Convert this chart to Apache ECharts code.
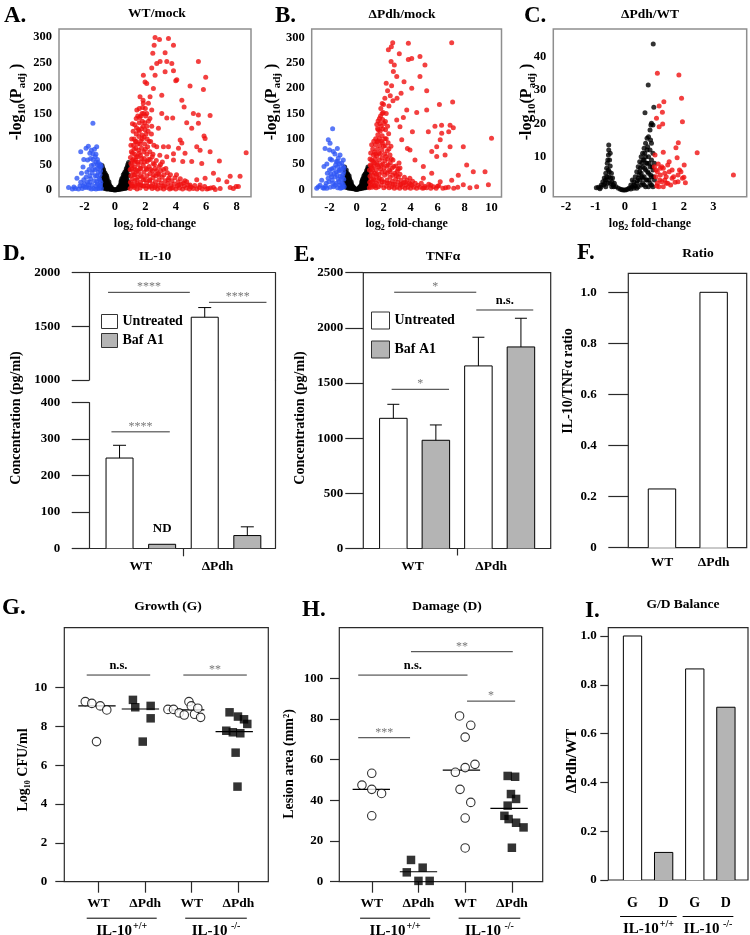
<!DOCTYPE html>
<html><head><meta charset="utf-8">
<script src="https://cdn.jsdelivr.net/npm/echarts@6/dist/echarts.min.js"></script>
<style>html,body{margin:0;padding:0;background:#fff}#c{width:750px;height:935px}</style>
</head><body><div id="c"></div>
<script>
// ===================== DATA =====================
// Volcano A (WT/mock)
const aXTicks = [-2,0,2,4,6,8];
const aYTicks = [0,50,100,150,200,250,300];
const aBlue = [[-1.45,131],[-1.75,86],[-1.9,82],[-2.25,75],[-1.2,85],[-1.65,72],[-1.45,71],[-1.3,65],[-1.8,59],[-2.05,60],[-1.1,54],[-2.2,33],[-2.5,23],[-3.05,5],[-2.6,3],[-1.55,78],[-1.35,80],[-1.25,70],[-1.6,62],[-1.0,45],[-0.95,38],[-1.15,42],[-1.4,50],[-1.7,40],[-1.9,25],[-2.0,12],[-2.3,8],[-2.4,2],[-2.15,3],[-1.95,5],[-1.8,15],[-1.7,4],[-1.6,22],[-1.5,10],[-1.5,34],[-1.4,3],[-1.35,18],[-1.3,40],[-1.25,8],[-1.2,28],[-1.15,12],[-1.1,3],[-1.05,22],[-1.0,8],[-0.98,30],[-0.93,15],[-0.9,46],[-0.9,3],[-1.65,28],[-1.85,35],[-2.05,20],[-2.7,6],[-2.8,2],[-1.55,48],[-1.25,55],[-1.05,48],[-0.95,50],[-1.15,60],[-1.45,60],[-2.1,45],[-1.2,16],[-1.55,2],[-1.75,10],[-2.25,15],[-1.0,20],[-1.1,35],[-1.3,28],[-1.45,40],[-1.05,4],[-1.25,2],[-1.65,15],[-1.85,6],[-2.1,8],[-0.95,10],[-1.15,50]];
const aBlack = [[-0.85,5],[-0.85,25],[-0.85,48],[-0.8,12],[-0.8,36],[-0.75,4],[-0.75,20],[-0.75,40],[-0.7,28],[-0.65,3],[-0.65,17],[-0.65,33],[-0.6,9],[-0.6,25],[-0.55,2],[-0.55,14],[-0.55,28],[-0.5,6],[-0.5,20],[-0.45,2],[-0.45,11],[-0.4,6],[-0.4,16],[-0.35,2],[-0.35,9],[-0.3,4],[-0.25,1],[-0.25,6],[-0.2,2],[-0.15,1],[-0.1,0.5],[-0.05,0.3],[0,0],[0.05,0.3],[0.1,0.5],[0.15,1],[0.2,2],[0.25,1],[0.25,6],[0.3,4],[0.35,2],[0.35,9],[0.4,6],[0.4,16],[0.45,2],[0.45,11],[0.45,22],[0.5,6],[0.5,20],[0.55,3],[0.55,15],[0.55,30],[0.6,9],[0.6,25],[0.65,3],[0.65,18],[0.65,35],[0.7,10],[0.7,30],[0.75,4],[0.75,22],[0.75,42],[0.8,14],[0.8,38],[0.85,5],[0.85,27],[0.85,50],[0.9,15],[0.9,40],[0.9,54],
[-0.82,18],[-0.82,44],[-0.78,8],[-0.78,30],[-0.72,14],[-0.72,36],[-0.68,6],[-0.68,22],[-0.62,14],[-0.62,30],[-0.58,5],[-0.58,20],[-0.52,10],[-0.52,24],[-0.48,4],[-0.48,15],[-0.42,8],[-0.38,4],[-0.38,12],[-0.32,6],[-0.28,2],[-0.22,3],[0.22,3],[0.28,2],[0.32,6],[0.38,4],[0.38,12],[0.42,8],[0.42,18],[0.48,4],[0.48,15],[0.52,10],[0.52,25],[0.58,5],[0.58,20],[0.62,14],[0.62,32],[0.68,6],[0.68,24],[0.72,14],[0.72,38],[0.78,8],[0.78,30],[0.82,18],[0.82,46],[0.88,8],[0.88,30]];
const aRed = [[2.64,299],[2.93,295],[3.52,297],[3.3,269],[2.58,284],[2.49,268],[3.85,284],[2.97,252],[3.41,252],[3.74,248],[2.75,248],[2.42,239],[3.3,232],[3.85,234],[2.64,225],[1.87,225],[1.98,212],[2.09,209],[4.0,214],[4.07,216],[4.94,204],[5.49,252],[5.97,221],[5.82,197],[2.53,199],[2.31,183],[3.08,186],[1.65,183],[1.87,170],[4.4,176],[4.55,163],[1.44,157],[2.09,150],[2.42,157],[3.08,150],[5.16,150],[5.49,147],[6.26,146],[4.72,132],[3.41,141],[3.8,141],[5.49,131],[2.42,125],[2.86,121],[5.05,121],[5.86,106],[5.93,101],[5.38,85],[5.6,78],[6.26,75],[8.63,73],[4.29,98],[4.4,92],[4.18,82],[4.61,72],[3.85,71],[3.19,85],[3.52,85],[2.75,85],[3.41,65],[3.85,59],[4.46,56],[5.05,56],[5.71,52],[6.87,57],[6.48,33],[7.58,27],[8.23,27],[6.81,20],[7.36,16],[5.93,23],[5.38,20],[4.72,16],[4.94,10],[5.6,10],[6.15,3],[6.92,3],[7.58,5],[7.97,7],[8.12,7],[7.79,3],[6.48,5],
[1.0,3],[1.02,15],[1.05,28],[1.0,40],[1.05,52],[1.02,64],[1.08,75],[1.12,8],[1.15,22],[1.18,36],[1.12,48],[1.2,60],[1.15,72],[1.22,88],[1.25,100],[1.28,5],[1.3,18],[1.32,30],[1.28,45],[1.35,58],[1.3,70],[1.38,82],[1.35,95],[1.4,110],[1.42,122],[1.45,2],[1.48,12],[1.5,25],[1.45,38],[1.52,50],[1.48,65],[1.55,78],[1.5,90],[1.58,105],[1.55,118],[1.6,132],[1.62,142],[1.65,4],[1.68,15],[1.7,28],[1.65,42],[1.72,55],[1.68,68],[1.75,82],[1.7,96],[1.78,108],[1.74,120],[1.8,135],[1.78,150],[1.82,162],[1.85,176],[1.85,8],[1.88,20],[1.9,35],[1.86,48],[1.92,62],[1.9,75],[1.95,90],[1.92,104],[1.98,118],[1.96,132],[2.02,145],[2.05,3],[2.08,14],[2.1,28],[2.05,42],[2.12,56],[2.1,70],[2.15,85],[2.12,100],[2.18,115],[2.2,135],[2.25,6],[2.28,18],[2.3,32],[2.25,46],[2.32,60],[2.3,75],[2.35,95],[2.4,110],[2.45,3],[2.48,12],[2.5,24],[2.46,38],[2.52,52],[2.5,70],[2.56,88],[2.62,5],[2.66,16],[2.7,28],[2.65,42],[2.72,58],[2.8,2],[2.85,10],[2.9,20],[2.84,32],[2.92,46],[2.95,68],[3.0,4],[3.05,14],[3.1,25],[3.02,38],[3.12,55],[3.2,2],[3.25,9],[3.3,18],[3.22,30],[3.35,42],[3.4,5],[3.48,13],[3.55,24],[3.45,34],[3.6,2],[3.68,9],[3.75,18],[3.65,30],[3.8,4],[3.9,12],[3.95,24],[4.0,2],[4.1,8],[4.15,16],[4.05,30],[4.25,4],[4.35,12],[4.3,22],[4.45,2],[4.55,8],[4.6,18],[4.7,4],[4.8,10],[4.9,2],[5.0,6],[5.15,3],[5.25,9],[5.4,2],[5.55,5],[5.75,2],[5.9,7],[6.05,2],[6.3,4],[6.6,1],[1.1,100],[1.2,115],[1.3,128],[1.5,145],[1.6,160],[2.0,160],[2.2,170],
[1.05,88],[1.1,12],[1.1,42],[1.15,58],[1.2,8],[1.25,30],[1.25,80],[1.3,55],[1.35,10],[1.35,40],[1.4,65],[1.4,95],[1.45,20],[1.5,55],[1.55,10],[1.55,35],[1.6,72],[1.6,115],[1.65,90],[1.7,10],[1.7,42],[1.75,62],[1.8,25],[1.8,100],[1.85,125],[1.9,8],[1.95,55],[2.0,20],[2.0,80],[2.05,110],[2.1,40],[2.15,8],[2.2,60],[2.25,95],[2.3,20],[2.35,40],[2.4,8],[2.45,65],[2.55,30],[2.6,50],[2.7,8],[2.75,38],[2.9,30],[3.0,50],[3.15,8],[3.2,40],[3.5,20],[3.7,4],[4.2,10],[4.5,14],[1.15,130],[1.4,140],[1.7,145],[1.9,150],[2.3,140],[2.1,125]];

// Volcano B (ΔPdh/mock)
const bXTicks = [-2,0,2,4,6,8,10];
const bYTicks = [0,50,100,150,200,250,300];
const bBlue = [[-1.77,120],[-2.09,98],[-1.96,91],[-2.33,81],[-1.42,81],[-1.72,75],[-1.22,68],[-1.84,58],[-0.98,58],[-2.41,45],[-2.16,32],[-2.58,18],[-2.83,5],[-2.41,2],[-2.0,78],[-1.6,70],[-1.35,62],[-1.1,52],[-1.5,55],[-1.95,60],[-2.2,50],[-1.0,45],[-0.95,35],[-1.15,40],[-1.4,45],[-1.7,42],[-1.9,30],[-2.05,15],[-2.3,6],[-2.5,3],[-2.2,2],[-1.95,4],[-1.8,18],[-1.7,5],[-1.6,25],[-1.5,12],[-1.5,35],[-1.4,3],[-1.35,20],[-1.3,36],[-1.25,8],[-1.2,26],[-1.1,12],[-1.1,3],[-1.05,25],[-1.0,10],[-0.95,20],[-0.92,5],[-0.92,42],[-1.65,32],[-1.85,40],[-2.1,22],[-2.7,8],[-2.95,2],[-1.55,48],[-1.25,50],[-1.3,15],[-1.75,12],[-2.25,12],[-1.45,28],[-1.15,20],[-1.0,30],[-1.05,4],[-1.25,38],[-1.6,8],[-1.85,25],[-2.0,38],[-1.4,55],[-1.2,2]];
const bBlack = [[-0.88,5],[-0.88,24],[-0.88,44],[-0.82,12],[-0.82,34],[-0.76,4],[-0.76,20],[-0.76,38],[-0.7,27],[-0.66,3],[-0.66,16],[-0.66,31],[-0.6,9],[-0.6,24],[-0.55,2],[-0.55,13],[-0.55,27],[-0.5,6],[-0.5,19],[-0.45,2],[-0.45,11],[-0.4,6],[-0.4,15],[-0.35,2],[-0.35,8],[-0.3,4],[-0.25,1],[-0.25,5],[-0.2,2],[-0.15,1],[-0.1,0.5],[-0.05,0.3],[0,0],[0.05,0.3],[0.1,0.5],[0.15,1],[0.2,2],[0.25,1],[0.25,5],[0.3,4],[0.35,2],[0.35,8],[0.4,6],[0.4,15],[0.45,2],[0.45,11],[0.45,20],[0.5,6],[0.5,18],[0.55,3],[0.55,14],[0.55,27],[0.6,9],[0.6,23],[0.65,3],[0.65,17],[0.65,31],[0.7,10],[0.7,28],[0.75,4],[0.75,21],[0.75,37],[0.8,13],[0.8,34],[0.85,5],[0.85,25],[0.85,44],[0.88,15],[0.88,38],
[-0.85,16],[-0.85,36],[-0.79,8],[-0.79,28],[-0.73,14],[-0.73,32],[-0.68,7],[-0.68,22],[-0.63,13],[-0.63,28],[-0.58,5],[-0.58,19],[-0.52,10],[-0.52,22],[-0.48,4],[-0.48,14],[-0.42,8],[-0.38,4],[-0.38,11],[-0.32,6],[-0.28,2],[-0.22,3],[0.22,3],[0.28,2],[0.32,6],[0.38,4],[0.38,11],[0.42,8],[0.42,16],[0.48,4],[0.48,14],[0.52,10],[0.52,23],[0.58,5],[0.58,19],[0.62,13],[0.62,29],[0.68,7],[0.68,23],[0.72,14],[0.72,33],[0.78,8],[0.78,28],[0.82,18],[0.82,40],[0.86,10],[0.86,32]];
const bRed = [[2.68,290],[2.58,282],[2.36,276],[3.84,289],[4.09,259],[3.84,257],[4.7,263],[3.17,268],[2.56,253],[2.8,246],[5.07,246],[2.73,233],[2.98,223],[3.52,213],[4.7,223],[4.09,200],[5.2,195],[6.14,168],[7.12,173],[7.05,290],[5.2,157],[3.72,157],[4.46,152],[6.3,127],[6.93,127],[5.81,125],[6.83,114],[6.31,111],[5.32,114],[7.17,122],[10.0,101],[7.91,84],[6.93,84],[6.2,98],[5.94,84],[5.57,75],[8.16,48],[8.65,35],[9.52,35],[9.77,9],[5.94,65],[6.56,68],[7.54,28],[7.05,18],[6.2,15],[7.91,9],[8.9,5],[4.95,45],[4.33,58],[3.96,78],[3.35,98],[3.22,124],[2.98,137],[3.47,142],[4.14,114],[3.77,81],[3.22,42],[4.95,22],[5.57,32],[2.2,210],[2.3,195],[2.1,180],[2.5,185],[2.4,165],[2.6,205],[1.9,170],[2.2,150],[3.0,180],[2.7,175],[3.3,190],[8.4,3],[7.5,4],[6.6,3],[6.0,6],[5.5,8],[5.0,3],
[0.95,3],[0.98,14],[1.0,26],[0.96,38],[1.02,48],[1.05,8],[1.08,20],[1.1,34],[1.06,46],[1.12,58],[1.15,4],[1.18,15],[1.2,28],[1.16,42],[1.22,55],[1.25,68],[1.2,80],[1.3,6],[1.32,18],[1.35,32],[1.3,46],[1.38,60],[1.34,74],[1.4,88],[1.42,100],[1.45,3],[1.48,12],[1.5,24],[1.46,38],[1.52,52],[1.5,66],[1.55,80],[1.52,94],[1.58,108],[1.56,120],[1.6,135],[1.62,5],[1.65,16],[1.68,30],[1.64,44],[1.7,58],[1.66,72],[1.72,86],[1.7,100],[1.75,115],[1.73,130],[1.78,145],[1.8,160],[1.82,8],[1.85,20],[1.88,34],[1.84,48],[1.9,62],[1.88,78],[1.92,92],[1.9,106],[1.95,120],[1.93,138],[1.98,152],[2.0,168],[2.02,3],[2.05,14],[2.08,28],[2.04,42],[2.1,56],[2.08,70],[2.12,86],[2.1,100],[2.15,118],[2.14,134],[2.22,6],[2.25,18],[2.28,32],[2.24,46],[2.3,60],[2.28,76],[2.34,92],[2.38,110],[2.42,3],[2.45,12],[2.48,24],[2.44,38],[2.5,52],[2.48,68],[2.55,85],[2.6,5],[2.65,16],[2.68,28],[2.64,42],[2.7,58],[2.8,2],[2.85,10],[2.9,20],[2.84,32],[2.92,46],[3.0,4],[3.05,14],[3.1,25],[3.02,36],[3.15,52],[3.2,2],[3.25,9],[3.3,18],[3.22,30],[3.4,5],[3.48,13],[3.55,24],[3.6,2],[3.68,9],[3.75,18],[3.8,4],[3.9,12],[3.95,22],[4.0,2],[4.1,8],[4.15,16],[4.25,4],[4.35,12],[4.45,2],[4.55,8],[4.7,4],[4.8,12],[4.9,2],[5.05,6],[5.2,3],[5.35,10],[5.5,2],[5.7,5],[5.9,2],[6.1,7],[6.4,2],[6.8,4],[7.2,2],
[1.0,60],[1.05,72],[1.1,10],[1.12,88],[1.18,38],[1.25,20],[1.28,95],[1.32,52],[1.38,8],[1.42,70],[1.48,30],[1.55,48],[1.6,95],[1.62,118],[1.68,22],[1.75,70],[1.78,40],[1.82,125],[1.85,95],[1.9,15],[1.95,50],[2.0,85],[2.05,130],[2.12,35],[2.18,65],[2.2,100],[2.3,12],[2.35,48],[2.4,80],[2.5,35],[2.58,60],[2.7,10],[2.75,45],[2.95,28],[3.1,40],[3.3,10],[3.6,14],[4.0,10],[1.7,140],[1.9,150],[2.3,125],[1.5,128]];

// Volcano C (ΔPdh/WT)
const cXTicks = [-2,-1,0,1,2,3];
const cYTicks = [0,10,20,30,40];
const cBlack = [[-0.55,13.5],[-0.55,12],[-0.56,10.5],[-0.52,9],[-0.6,8],[-0.5,7.2],[-0.56,6],[-0.65,5],[-0.46,5],[-0.7,3.6],[-0.42,3.6],[-0.6,3],[-0.5,2],[-0.8,1.5],[-0.75,2.5],[-0.36,2],[-0.3,1],[-0.9,0.8],[-0.97,0.7],[-0.22,0.5],[-0.65,1],[-0.45,1],[-0.55,4],[-0.62,6.5],[-0.5,11],[-0.58,2],[-0.68,2],[-0.4,1.5],[-0.85,0.4],[-0.15,0.2],[-0.1,0.1],[-0.05,0],[0,0],[0.05,0.1],[0.1,0.3],[0.15,0.6],[0.2,1.5],[0.2,0.3],[0.25,1],[0.25,3],[0.3,2.5],[0.3,0.5],[0.35,4],[0.35,1.2],[0.4,2],[0.4,5.5],[0.45,1],[0.45,3.5],[0.45,7],[0.5,3],[0.5,5.5],[0.5,8.5],[0.55,1.5],[0.55,5],[0.55,10],[0.6,2],[0.6,7],[0.6,11],[0.65,4],[0.65,9],[0.65,12.5],[0.7,1],[0.7,6],[0.7,10],[0.7,14],[0.75,3],[0.75,8],[0.75,12],[0.75,15.5],[0.8,5],[0.8,10],[0.8,16],[0.85,2],[0.85,7],[0.85,12],[0.85,18],[0.9,4],[0.9,9],[0.9,14],[0.9,20],[0.95,1],[0.95,6],[0.95,11],[0.95,19.5],[1.0,3],[1.0,8],[0.96,43.8],[0.79,31.5],[0.98,24.8],[0.68,23.2],[0.88,19.5],[0.6,3.5],[0.4,0.5],[0.3,1.5],[0.65,1.5],[0.8,1],[0.9,1.5],
[-0.62,4],[-0.48,3.5],[-0.53,5.5],[-0.58,9],[-0.66,3],[-0.72,1.5],[-0.44,2.5],[-0.38,1],[-0.82,0.8],[0.42,2.8],[0.48,4.5],[0.52,6.5],[0.58,4],[0.62,9],[0.67,6.5],[0.72,8],[0.77,5.5],[0.82,8],[0.87,4.5],[0.92,7],[0.97,4],[0.72,3],[0.82,3],[0.57,8],[0.67,11],[0.77,13],[0.87,15]];
const cRed = [[1.1,35],[1.83,34.5],[1.92,27.5],[1.95,20.5],[1.32,26.5],[1.16,25.2],[1.27,23.3],[1.07,21.5],[1.16,19],[1.28,19.8],[1.81,14.2],[1.73,12.7],[2.45,11.2],[1.3,11.3],[1.77,9.7],[2.01,7.5],[1.13,7.8],[1.5,8.5],[1.3,6.5],[1.05,6],[1.85,6],[1.9,5.5],[1.8,4.5],[1.95,3.5],[2.05,2.2],[1.6,3.5],[1.4,4],[1.35,3],[1.2,4.5],[1.1,2],[1.15,1],[1.25,2.5],[1.45,2],[1.55,1.5],[1.7,2.3],[1.65,4],[1.2,6.5],[1.05,4],[1.1,5.5],[1.35,5],[1.25,7],[1.5,5.5],[3.68,4.5],[1.4,2],[1.8,2.5],[1.02,10.5],[1.0,7],[1.08,1.2],[1.18,3],[1.3,1],[1.45,7.5],[1.6,6],[2.0,3.8]];

// D: IL-10 (pg/ml)
const strains = ['WT','ΔPdh'];
const treatments = ['Untreated','Baf A1'];
const il10Untreated = [248, 1585];
const il10UntreatedErr = [35, 90];
const il10Baf = [11, 35];
const il10BafErr = [0, 24];
const il10BafNote = ['ND', ''];
const il10Ticks = [0,100,200,300,400,1000,1500,2000];
const il10Sig = [[0.73,2.65,1817,'****'],[3.10,4.45,1724,'****'],[0.81,2.18,320,'****']];

// E: TNFα (pg/ml)
const tnfUntreated = [1180, 1655];
const tnfUntreatedErr = [127, 260];
const tnfBaf = [981, 1827];
const tnfBafErr = [139, 260];
const tnfTicks = [0,500,1000,1500,2000,2500];
const tnfSig = [[1.02,2.95,2323,'*'],[0.96,2.31,1443,'*'],[2.95,4.29,2162,'n.s.']];

// F: IL-10/TNFα ratio
const ratioValues = [0.23, 1.0];
const ratioTicks = [0,0.2,0.4,0.6,0.8,1.0];

// G: Growth, log10 CFU/ml
const groupLabels = ['WT','ΔPdh','WT','ΔPdh'];
const hostLabels = [['IL-10','+/+'],['IL-10',' -/-']];
const growthTicks = [0,2,4,6,8,10];
const growthWT_pp = [[0.72,9.28],[0.86,9.19],[1.04,9.06],[1.18,8.85],[0.96,7.22]];
const growthPdh_pp = [[1.74,9.37],[1.79,8.99],[2.12,9.06],[2.12,8.42],[1.95,7.22]];
const growthWT_mm = [[2.49,8.88],[2.61,8.88],[2.73,8.70],[2.84,8.59],[2.94,9.28],[2.99,9.06],[3.06,8.63],[3.13,8.94],[3.19,8.47]];
const growthPdh_mm = [[3.81,8.73],[3.99,8.51],[4.12,8.37],[4.19,8.13],[3.74,7.78],[3.88,7.70],[4.04,7.65],[3.94,6.65],[3.98,4.90]];
const growthMedians = [9.06, 8.9, 8.85, 7.73];
const growthMedianX = [0.97, 1.9, 2.87, 3.91];
const growthSig = [[0.75,2.11,10.65,'n.s.'],[2.82,4.18,10.65,'**']];

// H: Damage, lesion area mm²
const damageTicks = [0,20,40,60,80,100];
const damageWT_pp = [[1.0,53.3],[0.79,47.5],[1.0,45.4],[1.21,43.4],[1.0,32.4]];
const damagePdh_pp = [[1.84,10.7],[1.75,4.6],[2.09,6.9],[2.0,0.4],[2.24,0.4]];
const damageWT_mm = [[2.88,81.5],[3.12,76.9],[3.0,71.1],[3.21,57.7],[3.0,56.1],[2.79,53.8],[2.89,45.4],[3.12,39.0],[3.0,31.3],[3.0,16.6]];
const damagePdh_mm = [[3.91,52.0],[4.07,51.6],[3.98,43.1],[4.09,40.7],[3.91,37.4],[3.84,32.4],[3.93,30.8],[4.09,29.0],[4.25,26.7],[4.0,16.7]];
const damageMedians = [45.4, 4.9, 54.9, 36.1];
const damageMedianX = [0.99, 2.0, 2.92, 3.94];
const damageSig = [[1.84,4.02,113.1,'**'],[0.71,3.05,101.6,'n.s.'],[3.04,4.07,88.8,'*'],[0.71,1.82,70.8,'***']];

// I: G/D balance (ΔPdh/WT)
const balanceLabels = ['G','D','G','D'];
const balanceValues = [1.0, 0.113, 0.865, 0.708];
const balanceTicks = [0,0.2,0.4,0.6,0.8,1.0];

// ===================== STYLE / LAYOUT =====================
const FONT = '"Liberation Serif","Times New Roman",Times,serif';
const LINE = '#2a2a2a';
const GREY = '#b4b4b4';
const grids = [], xAxes = [], yAxes = [], series = [];
const plain = function (v) { return String(v); };

function merge(a, b) {
  const o = Object.assign({}, a);
  for (const k in b) {
    const v = b[k];
    if (v && typeof v === 'object' && !Array.isArray(v) && o[k] && typeof o[k] === 'object' && !Array.isArray(o[k])) o[k] = merge(o[k], v);
    else o[k] = v;
  }
  return o;
}
function addGrid(g) { grids.push(Object.assign({outerBoundsMode:'none', containLabel:false}, g)); return grids.length - 1; }
function axis(gi, extra) {
  return merge({type:'value', gridIndex:gi, splitLine:{show:false},
    axisLine:{show:false, onZero:false, lineStyle:{color:LINE, width:1.2}},
    axisTick:{show:false, lineStyle:{color:LINE, width:1.2}},
    axisLabel:{show:false, fontFamily:FONT, fontWeight:'bold', fontSize:13, color:'#000', formatter:plain}}, extra);
}
function addX(gi, extra) { xAxes.push(axis(gi, extra)); return xAxes.length - 1; }
function addY(gi, extra) { yAxes.push(axis(gi, extra)); return yAxes.length - 1; }
function rich(main, sub, pad) {
  return {
    a:{fontFamily:FONT, fontWeight:'bold', fontSize:main, lineHeight:main, verticalAlign:'top', color:'#000', fill:'#000'},
    s:{fontFamily:FONT, fontWeight:'bold', fontSize:sub, lineHeight:sub, padding:[pad,0,0,0], verticalAlign:'top', color:'#000', fill:'#000'}
  };
}
const SUP = {
  m:{fontFamily:FONT, fontWeight:'bold', fontSize:15, lineHeight:15, padding:[3,0,0,0], verticalAlign:'top', fill:'#000', color:'#000'},
  p:{fontFamily:FONT, fontWeight:'bold', fontSize:10, lineHeight:10, padding:[1,0,0,1], verticalAlign:'top', fill:'#000', color:'#000'}
};

// ---------- custom renderers ----------
function barRender(xs, vals, fill, lo, hi, bw, notes) {
  return function (params, api) {
    const i = params.dataIndex, x = xs[i], v = vals[i];
    if (!(v > lo)) return null;
    const top = Math.min(v, hi), bot = Math.max(0, lo);
    const pT = api.coord([x, top]), pB = api.coord([x, bot]);
    const l = pT[0] - bw / 2, r = pT[0] + bw / 2;
    const st = {stroke:'#000', lineWidth:1, fill:null};
    const ch = [{type:'rect', shape:{x:l, y:pT[1], width:bw, height:pB[1] - pT[1]}, style:{fill:fill}}];
    if (v <= hi) ch.push({type:'polyline', shape:{points:[[l,pB[1]],[l,pT[1]],[r,pT[1]],[r,pB[1]]]}, style:st});
    else {
      ch.push({type:'line', shape:{x1:l, y1:pB[1], x2:l, y2:pT[1]}, style:st});
      ch.push({type:'line', shape:{x1:r, y1:pB[1], x2:r, y2:pT[1]}, style:st});
    }
    if (notes && notes[i]) ch.push({type:'text', x:pT[0], y:pT[1] - 9, style:{text:notes[i], fontFamily:FONT, fontWeight:'bold', fontSize:13, fill:'#000', align:'center', verticalAlign:'bottom'}});
    return {type:'group', children:ch};
  };
}
function errRender(xs, vals, errs, cap) {
  return function (params, api) {
    const i = params.dataIndex;
    if (!errs[i]) return null;
    const a = api.coord([xs[i], vals[i]]), b = api.coord([xs[i], vals[i] + errs[i]]);
    const st = {stroke:'#000', lineWidth:1};
    return {type:'group', children:[
      {type:'line', shape:{x1:a[0], y1:a[1], x2:b[0], y2:b[1]}, style:st},
      {type:'line', shape:{x1:b[0] - cap / 2, y1:b[1], x2:b[0] + cap / 2, y2:b[1]}, style:st}]};
  };
}
function sigRender(arr) {
  return function (params, api) {
    const d = arr[params.dataIndex];
    const a = api.coord([d[0], d[2]]), b = api.coord([d[1], d[2]]);
    const stars = d[3].indexOf('*') >= 0;
    return {type:'group', children:[
      {type:'line', shape:{x1:a[0], y1:a[1], x2:b[0], y2:b[1]}, style:{stroke:'#333', lineWidth:1}},
      {type:'text', x:(a[0] + b[0]) / 2, y:a[1] - (stars ? 5 : 9), style:{text:d[3], fontFamily:FONT, fontWeight:stars ? 'normal' : 'bold', fontSize:stars ? 12 : 12.5, fill:stars ? '#777' : '#000', align:'center', verticalAlign:'middle'}}]};
  };
}
function medRender(xs, meds, half) {
  return function (params, api) {
    const i = params.dataIndex;
    const a = api.coord([xs[i] - half, meds[i]]), b = api.coord([xs[i] + half, meds[i]]);
    return {type:'line', shape:{x1:a[0], y1:a[1], x2:b[0], y2:b[1]}, style:{stroke:'#000', lineWidth:1.2}};
  };
}
function bracketRender(spans) {
  return function (params, api) {
    const i = params.dataIndex, s = spans[i];
    const a = api.coord([s[0], 0]), b = api.coord([s[1], 0]);
    const y = a[1] + 36.5;
    return {type:'group', children:[
      {type:'line', shape:{x1:a[0], y1:y, x2:b[0], y2:y}, style:{stroke:'#000', lineWidth:1}},
      {type:'text', x:(a[0] + b[0]) / 2, y:y + 2, style:{text:'{m|' + hostLabels[i][0] + '}{p|' + hostLabels[i][1] + '}', rich:SUP, align:'center', verticalAlign:'top'}}]};
  };
}
function custom(xi, yi, data, renderItem, extra) {
  series.push(Object.assign({type:'custom', xAxisIndex:xi, yAxisIndex:yi, data:data, renderItem:renderItem, silent:true}, extra || {}));
}

// ===================== A, B, C volcano plots =====================
function volcano(rect, xr, yr, xt, yt, sets) {
  const gi = addGrid({left:rect[0], top:rect[1], width:rect[2], height:rect[3], show:true, borderColor:'#8e8e8e', borderWidth:1.5, backgroundColor:'transparent'});
  const xi = addX(gi, {min:xr[0], max:xr[1], axisLabel:{show:true, customValues:xt, margin:4, fontSize:12.5},
    name:'{a|log}{s|2}{a| fold-change}', nameLocation:'middle', nameGap:21, nameTextStyle:{rich:rich(12, 8, 6)}});
  const yi = addY(gi, {min:yr[0], max:yr[1], axisLabel:{show:true, customValues:yt, margin:7, fontSize:12.5}});
  sets.forEach(function (s) {
    series.push({type:'scatter', xAxisIndex:xi, yAxisIndex:yi, data:s[0], symbolSize:5, itemStyle:{color:s[1]}, silent:true});
  });
}
volcano([59,29,192,167.7], [-3.68,8.95], [-13.1,315.7], aXTicks, aYTicks, [[aBlack,'#000'],[aBlue,'#2f56f5'],[aRed,'#f01010']]);
volcano([311.7,29,189.8,168], [-3.32,10.74], [-15.2,317.2], bXTicks, bYTicks, [[bBlack,'#000'],[bBlue,'#2f56f5'],[bRed,'#f01010']]);
volcano([553.3,29,193.4,167.7], [-2.43,4.13], [-2.0,48.3], cXTicks, cYTicks, [[cBlack,'#000'],[cRed,'#f01010']]);

// ===================== D: IL-10 with broken axis =====================
const posU = strains.map(function (s, i) { return i * 2 + 1; });
const posB = strains.map(function (s, i) { return i * 2 + 2; });
const D = {left:89.3, width:185.7, xr:[0.29,4.65]};
const dU = addGrid({left:D.left, width:D.width, top:272.7, height:107.3});
const dL = addGrid({left:D.left, width:D.width, top:380, height:168.3});
const dA = addGrid({left:D.left, width:D.width, top:402.7, height:145.6});
const upTicks = il10Ticks.filter(function (v) { return v >= 1000; });
const lowTicks = il10Ticks.filter(function (v) { return v <= 400; });
const xDU = addX(dU, {min:D.xr[0], max:D.xr[1]});
addX(dU, {min:D.xr[0], max:D.xr[1], position:'top', axisLine:{show:true}});
const yDU = addY(dU, {min:1000, max:2000, axisLine:{show:true}, axisTick:{show:true, length:17.6, customValues:upTicks},
  axisLabel:{show:true, margin:29, customValues:upTicks}});
addY(dU, {min:1000, max:2000, position:'right', axisLine:{show:true}});
const xDL = addX(dL, {min:D.xr[0], max:D.xr[1], axisLine:{show:true}, axisTick:{show:true, length:8, customValues:[2.5]},
  axisLabel:{show:true, margin:11, fontSize:13.5, customValues:[1.5,3.3], formatter:function (v) { return v < 2.5 ? strains[0] : strains[1]; }}});
const yDL = addY(dL, {min:0, max:462.4, axisTick:{show:true, length:17.6, customValues:lowTicks},
  axisLabel:{show:true, margin:29, customValues:lowTicks}});
addY(dL, {min:0, max:462.4, position:'right', axisLine:{show:true}});
addX(dA, {min:D.xr[0], max:D.xr[1]});
addY(dA, {min:0, max:400, axisLine:{show:true}});

[[xDU, yDU, 1000, 2000], [xDL, yDL, 0, 462.4]].forEach(function (g) {
  custom(g[0], g[1], posU.map(function (x, i) { return [x, il10Untreated[i]]; }), barRender(posU, il10Untreated, '#fff', g[2], g[3], 27), {name:treatments[0]});
  custom(g[0], g[1], posB.map(function (x, i) { return [x, il10Baf[i]]; }), barRender(posB, il10Baf, GREY, g[2], g[3], 27, g[2] === 0 ? il10BafNote : null), {name:treatments[1]});
  custom(g[0], g[1], posU.map(function (x, i) { return [x, il10Untreated[i]]; }), errRender(posU, il10Untreated, il10UntreatedErr, 13), {clip:true});
  custom(g[0], g[1], posB.map(function (x, i) { return [x, il10Baf[i]]; }), errRender(posB, il10Baf, il10BafErr, 13), {clip:true});
  custom(g[0], g[1], il10Sig.map(function (d) { return [d[0], d[2]]; }), sigRender(il10Sig), {clip:true});
});

// ===================== E: TNFα =====================
const gE = addGrid({left:363.3, top:272.7, width:187.4, height:275.8, show:true, borderColor:LINE, borderWidth:1.2, backgroundColor:'transparent'});
const xE = addX(gE, {min:0.294, max:4.70, axisTick:{show:true, length:7, customValues:[2.5]},
  axisLabel:{show:true, margin:11, fontSize:13.5, customValues:[1.45,3.3], formatter:function (v) { return v < 2.5 ? strains[0] : strains[1]; }}});
const yE = addY(gE, {min:0, max:2500, axisTick:{show:true, length:18, customValues:tnfTicks}, axisLabel:{show:true, margin:20, customValues:tnfTicks}});
custom(xE, yE, posU.map(function (x, i) { return [x, tnfUntreated[i]]; }), barRender(posU, tnfUntreated, '#fff', 0, 2500, 27.5), {name:treatments[0]});
custom(xE, yE, posB.map(function (x, i) { return [x, tnfBaf[i]]; }), barRender(posB, tnfBaf, GREY, 0, 2500, 27.5), {name:treatments[1]});
custom(xE, yE, posU.map(function (x, i) { return [x, tnfUntreated[i]]; }), errRender(posU, tnfUntreated, tnfUntreatedErr, 12));
custom(xE, yE, posB.map(function (x, i) { return [x, tnfBaf[i]]; }), errRender(posB, tnfBaf, tnfBafErr, 12));
custom(xE, yE, tnfSig.map(function (d) { return [d[0], d[2]]; }), sigRender(tnfSig));

// ===================== F: ratio =====================
const posF = strains.map(function (s, i) { return i + 1; });
const gF = addGrid({left:628.3, top:273.3, width:118.4, height:274.4, show:true, borderColor:LINE, borderWidth:1.2, backgroundColor:'transparent'});
const xF = addX(gF, {min:0.348, max:2.64, axisLabel:{show:true, margin:8, fontSize:13.5, customValues:posF, formatter:function (v) { return strains[Math.round(v) - 1]; }}});
const yF = addY(gF, {min:0, max:1.0744, axisTick:{show:true, length:20, customValues:ratioTicks},
  axisLabel:{show:true, margin:31.5, customValues:ratioTicks, formatter:function (v) { return v === 0 ? '0' : v.toFixed(1); }}});
custom(xF, yF, posF.map(function (x, i) { return [x, ratioValues[i]]; }), barRender(posF, ratioValues, '#fff', 0, 1.0744, 27.4));

// ===================== G / H dot plots =====================
function dotPanel(rect, xr, ymax, ticks, tickLen, labMargin, sets, meds, medX, sig) {
  const gi = addGrid({left:rect[0], top:rect[1], width:rect[2], height:rect[3], show:true, borderColor:LINE, borderWidth:1.2, backgroundColor:'transparent'});
  const xi = addX(gi, {min:xr[0], max:xr[1], axisTick:{show:true, length:11, customValues:[1,2,3,4]},
    axisLabel:{show:true, margin:15, fontSize:13.5, customValues:[1,2,3,4], formatter:function (v) { return groupLabels[Math.round(v) - 1]; }}});
  const yi = addY(gi, {min:0, max:ymax, axisTick:{show:true, length:tickLen, customValues:ticks}, axisLabel:{show:true, margin:labMargin, customValues:ticks}});
  sets.forEach(function (s, k) {
    const open = k % 2 === 0;
    series.push({type:'scatter', xAxisIndex:xi, yAxisIndex:yi, data:s, symbol:open ? 'circle' : 'rect', symbolSize:8.5,
      itemStyle:open ? {color:'#fff', borderColor:'#000', borderWidth:1.1} : {color:'#000'}, silent:true});
  });
  custom(xi, yi, meds.map(function (m, i) { return [medX[i], m]; }), medRender(medX, meds, 0.4));
  custom(xi, yi, sig.map(function (d) { return [d[0], d[2]]; }), sigRender(sig));
  return {xi:xi, yi:yi};
}
const hostSpansGH = [[0.75,2.25],[2.86,4.18]];
const gG = dotPanel([64.3,627.7,204,254], [0.27,4.64], 13.09, growthTicks, 9, 17,
  [growthWT_pp, growthPdh_pp, growthWT_mm, growthPdh_mm], growthMedians, growthMedianX, growthSig);
custom(gG.xi, gG.yi, hostSpansGH.map(function (s) { return [s[0], 0]; }), bracketRender(hostSpansGH));
const gH = dotPanel([339.3,627.7,203.4,254], [0.305,4.66], 124.9, damageTicks, 9.3, 16,
  [damageWT_pp, damagePdh_pp, damageWT_mm, damagePdh_mm], damageMedians, damageMedianX, damageSig);
custom(gH.xi, gH.yi, hostSpansGH.map(function (s) { return [s[0], 0]; }), bracketRender(hostSpansGH));

// ===================== I: G/D balance =====================
const posI = balanceValues.map(function (v, i) { return i + 1; });
const gI = addGrid({left:608.3, top:627.7, width:139.7, height:252.3, show:true, borderColor:LINE, borderWidth:1.2, backgroundColor:'transparent'});
const xI = addX(gI, {min:0.222, max:4.71, axisLabel:{show:true, margin:16, fontSize:14, customValues:posI, formatter:function (v) { return balanceLabels[Math.round(v) - 1]; }}});
const yI = addY(gI, {min:0, max:1.034, axisTick:{show:true, length:8, customValues:balanceTicks},
  axisLabel:{show:true, margin:11.5, customValues:balanceTicks, formatter:function (v) { return v === 0 ? '0' : v.toFixed(1); }}});
const balanceFill = balanceLabels.map(function (l) { return l === 'D' ? GREY : '#fff'; });
balanceValues.forEach(function (v, i) {
  custom(xI, yI, [[posI[i], v]], barRender([posI[i]], [v], balanceFill[i], 0, 1.034, 18.3));
});
const hostSpansI = [[0.6,2.42],[2.61,4.24]];
custom(xI, yI, hostSpansI.map(function (s) { return [s[0], 0]; }), bracketRender(hostSpansI));

// ===================== texts =====================
function T(text, x, y, size, extra) {
  return merge({type:'text', x:x, y:y, silent:true, style:{text:text, fontFamily:FONT, fontWeight:'bold', fontSize:size, fill:'#000', align:'center', verticalAlign:'middle'}}, extra || {});
}
const ROT = Math.PI / 2;
const volcYName = '{a|-log}{s|10}{a|(P}{s|adj}{a| )}';
const texts = [
  T('A.', 4, 16, 23, {style:{align:'left'}}), T('B.', 275, 16, 23, {style:{align:'left'}}), T('C.', 524, 16, 23, {style:{align:'left'}}),
  T('D.', 3, 254, 23, {style:{align:'left'}}), T('E.', 294, 255, 23, {style:{align:'left'}}), T('F.', 577, 253, 23, {style:{align:'left'}}),
  T('G.', 2, 608, 23, {style:{align:'left'}}), T('H.', 302, 610, 23, {style:{align:'left'}}), T('I.', 585, 611, 23, {style:{align:'left'}}),
  T('WT/mock', 157, 14, 13.5), T('ΔPdh/mock', 402, 15, 13.5), T('ΔPdh/WT', 650, 15, 13.5),
  T('IL-10', 155, 257, 13.5), T('TNFα', 443, 257, 13.5), T('Ratio', 698, 254, 13.5),
  T('Growth (G)', 168, 607, 13.5), T('Damage (D)', 447, 607, 13.5), T('G/D Balance', 683, 605, 13.5),
  T(volcYName, 17, 102, 16, {rotation:ROT, style:{rich:rich(16, 11, 7.5)}}),
  T(volcYName, 272, 102, 16, {rotation:ROT, style:{rich:rich(16, 11, 7.5)}}),
  T(volcYName, 527, 102, 16, {rotation:ROT, style:{rich:rich(16, 11, 7.5)}}),
  T('Concentration (pg/ml)', 16, 418, 14, {rotation:ROT}),
  T('Concentration (pg/ml)', 300, 418, 14, {rotation:ROT}),
  T('IL-10/TNFα ratio', 568, 381, 14, {rotation:ROT}),
  T('{a|Log}{s|10}{a| CFU/ml}', 23, 770, 14, {rotation:ROT, style:{rich:rich(14, 8, 8)}}),
  T('Lesion area (mm²)', 289, 764, 14, {rotation:ROT}),
  T('ΔPdh/WT', 572, 761, 15, {rotation:ROT})
];

const legendText = {fontFamily:FONT, fontWeight:'bold', fontSize:14, color:'#000'};
const chart = echarts.init(document.getElementById('c'), null, {renderer:'canvas', width:750, height:935});
chart.setOption({
  animation:false,
  backgroundColor:'#fff',
  grid:grids, xAxis:xAxes, yAxis:yAxes, series:series,
  legend:[
    {left:101, top:314, orient:'vertical', icon:'rect', itemWidth:16, itemHeight:14, itemGap:4, selectedMode:false, padding:0,
      textStyle:Object.assign({lineHeight:14}, legendText),
      data:[{name:treatments[0], itemStyle:{color:'#fff', borderColor:'#333', borderWidth:1}}, {name:treatments[1], itemStyle:{color:GREY, borderColor:'#333', borderWidth:1}}]},
    {left:371, top:311.5, orient:'vertical', icon:'rect', itemWidth:18, itemHeight:17, itemGap:11, selectedMode:false, padding:0,
      textStyle:Object.assign({lineHeight:17}, legendText),
      data:[{name:treatments[0], itemStyle:{color:'#fff', borderColor:'#333', borderWidth:1}}, {name:treatments[1], itemStyle:{color:GREY, borderColor:'#333', borderWidth:1}}]}
  ],
  graphic:{elements:texts}
});
</script></body></html>
